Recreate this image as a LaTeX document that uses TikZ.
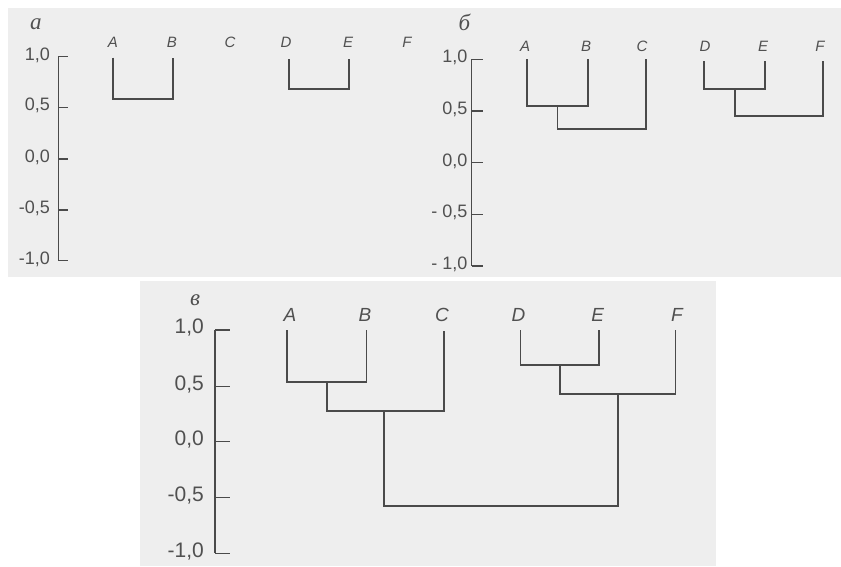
\documentclass[tikz,border=0pt]{standalone}
\usepackage{fontspec}
\setmainfont{Liberation Sans}
\newfontfamily\cyrit{Liberation Serif}
\definecolor{panelbg}{HTML}{EEEEEE}
\definecolor{ink}{HTML}{4A4A4A}
\definecolor{txt}{HTML}{505050}
\begin{document}
\begin{tikzpicture}[x=1pt,y=-1pt,
  tree/.style={draw=ink, line width=1.8pt, line join=miter},
  axisline/.style={draw=ink, line width=1.4pt},
  leafs/.style={font=\itshape\fontsize{15}{15}\selectfont, text=txt, inner sep=0pt},
  leafl/.style={font=\itshape\fontsize{19}{19}\selectfont, text=txt, inner sep=0pt},
  ticks/.style={font=\fontsize{18}{18}\selectfont, text=txt, inner sep=0pt, anchor=east},
  tickl/.style={font=\fontsize{21}{21}\selectfont, text=txt, inner sep=0pt, anchor=east},
  panlab/.style={font=\cyrit\itshape\fontsize{23}{23}\selectfont, text=txt, inner sep=0pt}]
\useasboundingbox (0,0) rectangle (841,566);
\fill[panelbg] (8,8) rectangle (841,277);
\fill[panelbg] (140,281) rectangle (716,566);

% ---------- panel a ----------
\node[panlab] (pa) at (36,24) {а};
\draw[axisline] (58.3,56.7) -- (58.3,260.7);
\foreach \y/\t [count=\i] in {56.7/{1,0},107.3/{0,5},159/{0,0},210/{-0,5},260.7/{-1,0}}{
  \draw[axisline] (58.3,\y) -- (67.7,\y);
  \node[ticks] (ta\i) at (50,\y-1.5) {\t};
}
\node[leafs] (laA) at (113,42.7) {A};
\node[leafs] (laB) at (172,42.7) {B};
\node[leafs] (laC) at (230,42.7) {C};
\node[leafs] (laD) at (286,42.7) {D};
\node[leafs] (laE) at (348,42.7) {E};
\node[leafs] (laF) at (407,42.7) {F};
\coordinate (aA) at (113.3,57.7);
\coordinate (aB) at (173,57.7);
\coordinate (aD) at (288.7,59.3);
\coordinate (aE) at (349.3,59.3);
\coordinate (aAB) at (143.2,99);
\coordinate (aDE) at (319,89);
\draw[tree] (aA) |- (aAB) -| (aB);
\draw[tree] (aD) |- (aDE) -| (aE);

% ---------- panel b ----------
\node[panlab] (pb) at (464.3,22) {б};
\draw[axisline] (471.7,59.3) -- (471.7,266);
\foreach \y/\t [count=\i] in {59.3/{1,0},111/{0,5},162.7/{0,0},214.3/{- 0,5},266/{- 1,0}}{
  \draw[axisline] (471.7,\y) -- (483.3,\y);
  \node[ticks] (tb\i) at (467.7,\y-1.5) {\t};
}
\node[leafs] (lbA) at (525,46) {A};
\node[leafs] (lbB) at (586,46) {B};
\node[leafs] (lbC) at (642,46) {C};
\node[leafs] (lbD) at (705,46) {D};
\node[leafs] (lbE) at (763,46) {E};
\node[leafs] (lbF) at (820,46) {F};
\coordinate (bA) at (527.3,59.3);
\coordinate (bB) at (587.7,59.3);
\coordinate (bC) at (645.7,59.3);
\coordinate (bD) at (704.3,61);
\coordinate (bE) at (765,61);
\coordinate (bF) at (822.7,61);
\coordinate (bAB) at (557.5,106);
\coordinate (bABC) at (601.6,129.3);
\coordinate (bDE) at (734.6,89.3);
\coordinate (bDEF) at (778.7,115.7);
\draw[tree] (bA) |- (bAB) -| (bB);
\draw[tree] (bAB) |- (bABC) -| (bC);
\draw[tree] (bD) |- (bDE) -| (bE);
\draw[tree] (bDE) |- (bDEF) -| (bF);

% ---------- panel c ----------
\node[panlab] (pc) at (195,300) {в};
\draw[axisline] (215,330) -- (215,553.3);
\foreach \y/\t [count=\i] in {330/{1,0},386.7/{0,5},441.7/{0,0},497.7/{-0,5},553.3/{-1,0}}{
  \draw[axisline] (215,\y) -- (229.5,\y);
  \node[tickl] (tc\i) at (204,\y-2) {\t};
}
\node[leafl] (lcA) at (290,315) {A};
\node[leafl] (lcB) at (365,315) {B};
\node[leafl] (lcC) at (442,315) {C};
\node[leafl] (lcD) at (518.4,315) {D};
\node[leafl] (lcE) at (597.7,315) {E};
\node[leafl] (lcF) at (677,315) {F};
\coordinate (cA) at (286.9,330);
\coordinate (cB) at (366.5,330);
\coordinate (cC) at (443.8,331);
\coordinate (cD) at (520.4,330);
\coordinate (cE) at (598.8,330);
\coordinate (cF) at (675.4,330);
\coordinate (cAB) at (326.7,381.7);
\coordinate (cABC) at (384,411);
\coordinate (cDE) at (559.6,365);
\coordinate (cDEF) at (618,394.3);
\coordinate (cRoot) at (501,505.7);
\draw[tree] (cA) |- (cAB) -| (cB);
\draw[tree] (cAB) |- (cABC) -| (cC);
\draw[tree] (cD) |- (cDE) -| (cE);
\draw[tree] (cDE) |- (cDEF) -| (cF);
\draw[tree] (cABC) |- (cRoot) -| (cDEF);
\end{tikzpicture}
\end{document}
